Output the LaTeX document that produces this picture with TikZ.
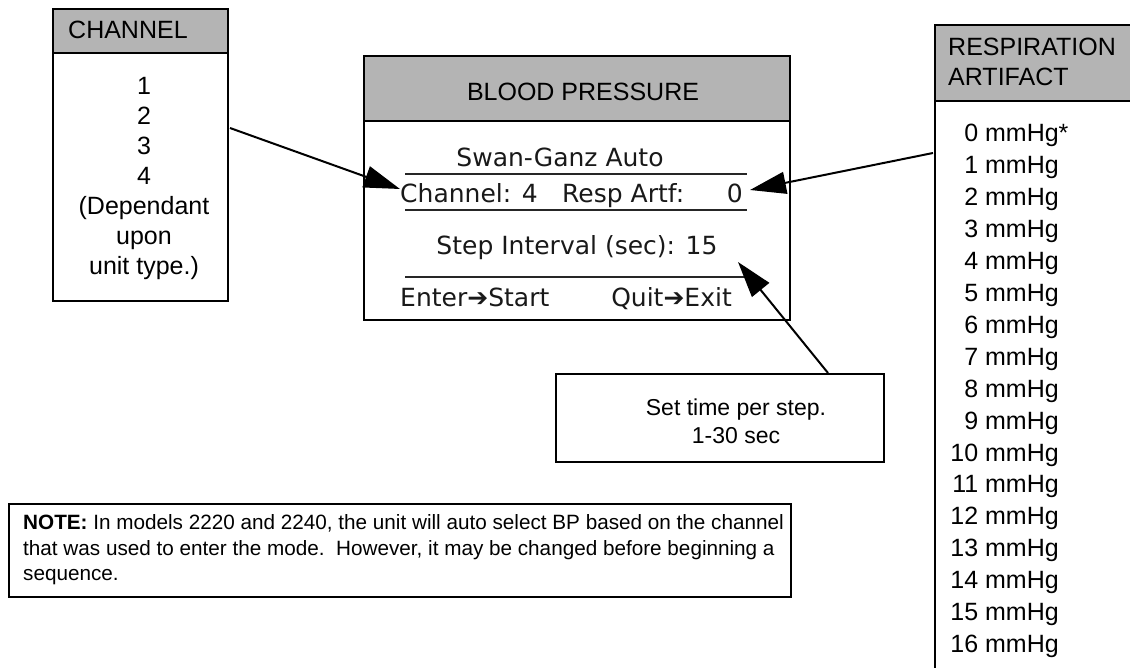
\documentclass[tikz,border=0pt]{standalone}
\usepackage{fontspec}
\setmainfont{Liberation Sans}
\newfontfamily\lcdfont{DejaVu Sans}
\usetikzlibrary{arrows.meta}
\definecolor{hdrgray}{RGB}{180,180,180}
\tikzset{
  panel/.style={draw,line width=2pt,anchor=north west,inner sep=0pt},
  txt/.style={font=\fontsize{25}{30}\selectfont,inner sep=0pt},
  lcd/.style={font=\lcdfont\fontsize{25}{30}\selectfont,inner sep=0pt,text=black!90},
  lcdrule/.style={line width=2pt,black!85},
  pointer/.style={line width=2pt,-{Triangle[length=36pt,width=22pt]}},
}
\begin{document}
\begin{tikzpicture}[x=1pt,y=-1pt]
  \clip (0,0) rectangle (1130,668);
  % channel choices
  \node[panel,minimum width=175pt,minimum height=292pt] (chanbox) at (52,8) {};
  \node[panel,fill=hdrgray,minimum width=175pt,minimum height=44pt] (chanhead) at (52,8) {};
  \node[txt,anchor=west] (chantitle) at (68,30) {CHANNEL};
  \node[txt,align=center] (chanlist) at (144,178) {1\\2\\3\\4\\(Dependant\\upon\\unit type.)};
  % display screen
  \node[panel,minimum width=426pt,minimum height=264pt] (bpbox) at (363,55) {};
  \node[panel,fill=hdrgray,minimum width=426pt,minimum height=65pt] (bphead) at (363,55) {};
  \node[txt] (bptitle) at (583,92) {BLOOD PRESSURE};
  \draw[lcdrule] (405,174) -- (747,174);
  \draw[lcdrule] (405,210) -- (747,210);
  \draw[lcdrule] (405,277) -- (747,277);
  \node[lcd,anchor=base] (modeline) at (560,167) {Swan-Ganz Auto};
  \node[lcd,anchor=base west] (chanline) at (400,203) {Channel: 4};
  \node[lcd,anchor=base west] (artfline) at (562,203) {Resp Artf:};
  \node[lcd,anchor=base east] (artfval) at (743,203) {0};
  \node[lcd,anchor=base] (stepline) at (577,255) {Step Interval (sec): 15};
  \node[lcd,anchor=base west] (enterkey) at (400,307) {Enter➔Start};
  \node[lcd,anchor=base east] (quitkey) at (732,307) {Quit➔Exit};
  % respiration artifact choices
  \node[panel,minimum width=220pt,minimum height=700pt] (respbox) at (934,24) {};
  \node[panel,fill=hdrgray,minimum width=220pt,minimum height=76pt] (resphead) at (934,24) {};
  \node[txt,anchor=west,align=left] (resptitle) at (948,62) {RESPIRATION\\ARTIFACT};
  \node[txt,anchor=base west] (resp0) at (948,142) {\makebox[30pt][r]{0} mmHg*};
  \foreach \v in {1,...,16}
    \node[txt,anchor=base west] (resp\v) at (948,142+31.9*\v) {\makebox[30pt][r]{\v} mmHg};
  % step time
  \node[panel,minimum width=328pt,minimum height=88pt] (stepbox) at (555,373) {};
  \node[txt,font=\fontsize{23}{28}\selectfont,align=center] (steptext) at (736,421) {Set time per step.\\1-30 sec};
  % note
  \node[panel,minimum width=782pt,minimum height=93pt] (notebox) at (8,503) {};
  \node[txt,font=\fontsize{20.7}{25.5}\selectfont,anchor=west,align=left] (notetext) at (23,550)
    {\textbf{NOTE:} In models 2220 and 2240, the unit will auto select BP based on the channel\\
     that was used to enter the mode.\ \ However, it may be changed before beginning a\\
     sequence.};
  % pointers
  \coordinate (chantail) at (230,128);
  \coordinate (chantip) at (400,189);
  \coordinate (resptail) at (933,153);
  \coordinate (resptip) at (750,190);
  \coordinate (steptail) at (828,373);
  \coordinate (steptip) at (738,262);
  \draw[pointer] (chantail) -- (chantip);
  \draw[pointer] (resptail) -- (resptip);
  \draw[pointer] (steptail) -- (steptip);
\end{tikzpicture}
\end{document}
